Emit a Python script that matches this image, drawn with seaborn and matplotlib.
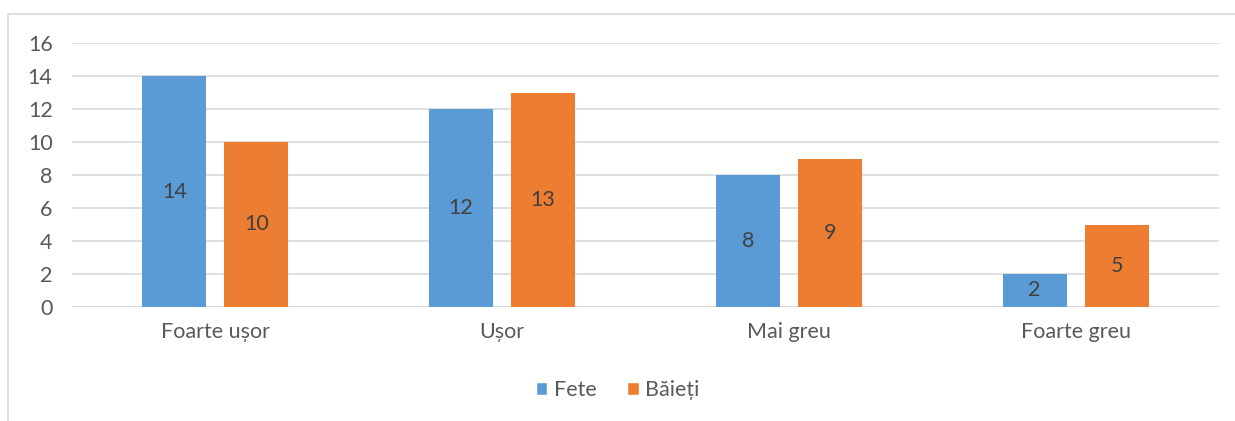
import matplotlib
matplotlib.use("Agg")
import matplotlib.pyplot as plt
import seaborn as sns
import pandas as pd
from matplotlib.patches import Rectangle, Patch

categories = ["Foarte ușor", "Ușor", "Mai greu", "Foarte greu"]
series_names = ["Fete", "Băieți"]
fete = [14, 12, 8, 2]
baieti = [10, 13, 9, 5]
yticks = [0, 2, 4, 6, 8, 10, 12, 14, 16]

colors = ["#5B9BD5", "#ED7D31"]
txt = "#595959"
fs = 15.5

df = pd.DataFrame({
    "cat": categories * 2,
    "val": fete + baieti,
    "ser": [series_names[0]] * 4 + [series_names[1]] * 4,
})

sns.set_style("white")
plt.rcParams['font.family'] = ['Lato', 'DejaVu Sans']

fig = plt.figure(figsize=(12.35, 4.21), dpi=100)
ax = fig.add_axes([72/1235, 1-307/421, (1219-72)/1235, (307-43)/421])

sns.barplot(data=df, x="cat", y="val", hue="ser", palette=colors, ax=ax,
            width=0.572, gap=0.22, order=categories, hue_order=series_names,
            legend=False, saturation=1, linewidth=0)

ax.set_ylim(0, 16)
ax.set_xlim(-0.5, 3.5)
ax.set_yticks(yticks)
ax.yaxis.grid(True, color="#D9D9D9", linewidth=1.2)
ax.set_axisbelow(True)
for s in ax.spines.values():
    s.set_visible(False)
ax.axhline(0, color="#D9D9D9", linewidth=1.2, zorder=0.5)
ax.set_xlabel("")
ax.set_ylabel("")
ax.tick_params(axis="both", length=0, labelsize=fs, colors=txt)
ax.tick_params(axis="x", pad=11)
ax.tick_params(axis="y", pad=14)

for cont in ax.containers:
    ax.bar_label(cont, label_type="center", fontsize=fs, color="#404040")

handles = [Patch(facecolor=c, label=n) for c, n in zip(colors, series_names)]
fig.legend(handles=handles, loc="center", bbox_to_anchor=(0.5, 1-390/421), ncol=2,
           frameon=False, fontsize=fs, handlelength=0.55, handleheight=0.55,
           handletextpad=0.3, columnspacing=1.4, labelcolor=txt)

fig.patches.append(Rectangle((8/1235, -0.1), 1.2, 1-14/421+0.1, transform=fig.transFigure,
                             fill=False, edgecolor="#D9D9D9", linewidth=1.2))

fig.savefig("out.png", dpi=100)
